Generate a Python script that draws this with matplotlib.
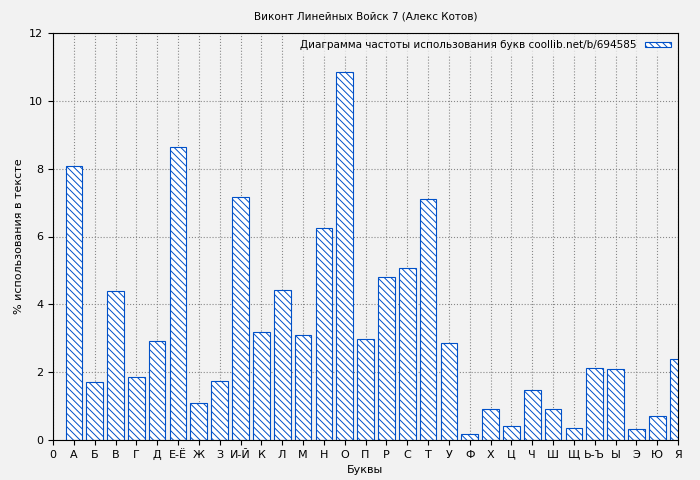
import matplotlib
matplotlib.use("Agg")
import matplotlib.pyplot as plt

letters = ["А","Б","В","Г","Д","Е-Ё","Ж","З","И-Й","К","Л","М","Н","О","П","Р","С","Т","У","Ф","Х","Ц","Ч","Ш","Щ","Ь-Ъ","Ы","Э","Ю","Я"]
values = [8.08,1.71,4.39,1.86,2.92,8.64,1.09,1.74,7.17,3.19,4.42,3.10,6.25,10.85,2.98,4.81,5.07,7.11,2.86,0.18,0.91,0.41,1.47,0.91,0.35,2.12,2.09,0.32,0.71,2.39]
tick_labels = ["0"] + letters

plt.rcParams['font.family'] = ['DejaVu Sans']
plt.rcParams['hatch.color'] = '#0050c8'
plt.rcParams['hatch.linewidth'] = 0.7
fig = plt.figure(figsize=(7, 4.8), dpi=100, facecolor='#f2f2f2')
ax = fig.add_axes([53/700, 40/480, 625/700, 407/480])
ax.set_facecolor('#f2f2f2')
pos = list(range(1, len(letters) + 1))
ax.bar(pos, values, width=0.8, color='white', edgecolor='#0050c8', hatch='\\\\\\\\\\', linewidth=0.8,
       label='Диаграмма частоты использования букв coollib.net/b/694585', zorder=2)
ax.set_xlim(0, 30)
ax.set_ylim(0, 12)
ax.set_xticks(range(0, 31))
ax.set_xticklabels(tick_labels, fontsize=8)
ax.set_yticks(range(0, 13, 2))
ax.tick_params(axis='y', labelsize=8)
ax.grid(True, linestyle=':', color='#888888', linewidth=0.8, zorder=0)
ax.set_axisbelow(True)
ax.set_xlabel('Буквы', fontsize=8)
ax.set_ylabel('% использования в тексте', fontsize=8)
ax.set_title('Виконт Линейных Войск 7 (Алекс Котов)', fontsize=7.5, pad=10)
leg = ax.legend(loc='upper right', fontsize=7.5, frameon=True, facecolor='#f2f2f2', edgecolor='#f2f2f2',
                handlelength=2.5, handleheight=0.4, borderaxespad=0.3, markerfirst=False)
fig.savefig('out.png', dpi=100, facecolor=fig.get_facecolor())
